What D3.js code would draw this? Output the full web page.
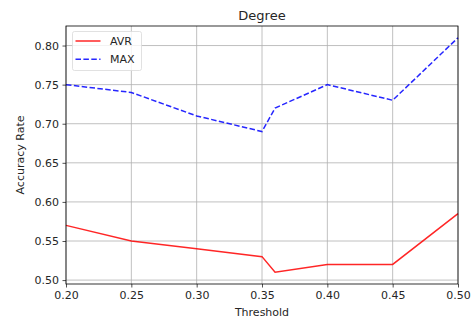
<!DOCTYPE html>
<html>
<head>
<meta charset="utf-8">
<script src="https://cdn.jsdelivr.net/npm/d3@7"></script>
<style>
  body { margin: 0; background: #fff; }
  text { font-family: "DejaVu Sans", sans-serif; fill: #262626; }
</style>
</head>
<body>
<div id="chart"></div>
<script>
// data
var thresholds = [0.20, 0.25, 0.30, 0.35, 0.36, 0.40, 0.45, 0.50];
var avrValues = [0.57, 0.55, 0.54, 0.53, 0.51, 0.52, 0.52, 0.585];
var maxValues = [0.75, 0.74, 0.71, 0.69, 0.72, 0.75, 0.73, 0.81];
var xTicks = [0.20, 0.25, 0.30, 0.35, 0.40, 0.45, 0.50];
var yTicks = [0.50, 0.55, 0.60, 0.65, 0.70, 0.75, 0.80];
var seriesNames = ["AVR", "MAX"];

var svgWidth = 471;
var svgHeight = 322;

var margin = { top: 26, right: 13, bottom: 38, left: 66 };
var width = svgWidth - margin.left - margin.right;
var height = svgHeight - margin.top - margin.bottom;

var svg = d3.select("#chart")
  .append("svg")
  .attr("width", svgWidth)
  .attr("height", svgHeight);

var chartGroup = svg.append("g")
  .attr("transform", `translate(${margin.left}, ${margin.top})`);

// scales
var xScale = d3.scaleLinear()
  .domain([0.2, 0.5])
  .range([0, width]);

var yScale = d3.scaleLinear()
  .domain([0.495, 0.825])
  .range([height, 0]);

// grid
chartGroup.append("g")
  .selectAll("line.vgrid")
  .data(xTicks)
  .enter()
  .append("line")
  .attr("x1", d => xScale(d))
  .attr("x2", d => xScale(d))
  .attr("y1", 0)
  .attr("y2", height)
  .attr("stroke", "#b0b0b0")
  .attr("stroke-width", 0.8);

chartGroup.append("g")
  .selectAll("line.hgrid")
  .data(yTicks)
  .enter()
  .append("line")
  .attr("x1", 0)
  .attr("x2", width)
  .attr("y1", d => yScale(d))
  .attr("y2", d => yScale(d))
  .attr("stroke", "#b0b0b0")
  .attr("stroke-width", 0.8);

// axes
var bottomAxis = d3.axisBottom(xScale)
  .tickValues(xTicks)
  .tickFormat(d3.format(".2f"))
  .tickSize(3.5)
  .tickPadding(3.5);
var leftAxis = d3.axisLeft(yScale)
  .tickValues(yTicks)
  .tickFormat(d3.format(".2f"))
  .tickSize(3.5)
  .tickPadding(3.5);

var xAxisG = chartGroup.append("g")
  .attr("transform", `translate(0, ${height})`)
  .call(bottomAxis);
var yAxisG = chartGroup.append("g")
  .call(leftAxis);

[xAxisG, yAxisG].forEach(function (g) {
  g.select(".domain").remove();
  g.selectAll("line").attr("stroke", "#262626").attr("stroke-width", 0.8);
  g.selectAll("text").style("font-size", "11px").attr("fill", "#262626");
});

// lines
var line = d3.line()
  .x((d, i) => xScale(thresholds[i]))
  .y(d => yScale(d));

chartGroup.append("path")
  .datum(avrValues)
  .attr("d", line)
  .attr("fill", "none")
  .attr("stroke", "red")
  .attr("stroke-opacity", 0.85)
  .attr("stroke-width", 1.5);

chartGroup.append("path")
  .datum(maxValues)
  .attr("d", line)
  .attr("fill", "none")
  .attr("stroke", "blue")
  .attr("stroke-opacity", 0.85)
  .attr("stroke-width", 1.5)
  .attr("stroke-dasharray", "5.5,2.4");

// frame
chartGroup.append("rect")
  .attr("width", width)
  .attr("height", height)
  .attr("fill", "none")
  .attr("stroke", "#000")
  .attr("stroke-width", 0.8);

// legend
var legend = chartGroup.append("g")
  .attr("transform", "translate(6.5, 5.5)");

legend.append("rect")
  .attr("width", 69)
  .attr("height", 39)
  .attr("rx", 2)
  .attr("fill", "#fff")
  .attr("fill-opacity", 0.8)
  .attr("stroke", "#d9d9d9")
  .attr("stroke-width", 0.8);

seriesNames.forEach(function (name, i) {
  var y = 9.5 + i * 18.3;
  legend.append("line")
    .attr("x1", 3)
    .attr("x2", 28)
    .attr("y1", y)
    .attr("y2", y)
    .attr("stroke", i === 0 ? "red" : "blue")
    .attr("stroke-opacity", 0.85)
    .attr("stroke-width", 1.5)
    .attr("stroke-dasharray", i === 0 ? null : "5.5,2.4");
  legend.append("text")
    .attr("x", 37.5)
    .attr("y", y + 4)
    .style("font-size", "11px")
    .text(name);
});

// title and axis labels
svg.append("text")
  .attr("x", margin.left + width / 2)
  .attr("y", 20)
  .attr("text-anchor", "middle")
  .style("font-size", "13px")
  .text("Degree");

svg.append("text")
  .attr("x", margin.left + width / 2)
  .attr("y", 316)
  .attr("text-anchor", "middle")
  .style("font-size", "11px")
  .text("Threshold");

svg.append("text")
  .attr("transform", "rotate(-90)")
  .attr("x", -(margin.top + height / 2))
  .attr("y", 24)
  .attr("text-anchor", "middle")
  .style("font-size", "11px")
  .text("Accuracy Rate");
</script>
</body>
</html>
